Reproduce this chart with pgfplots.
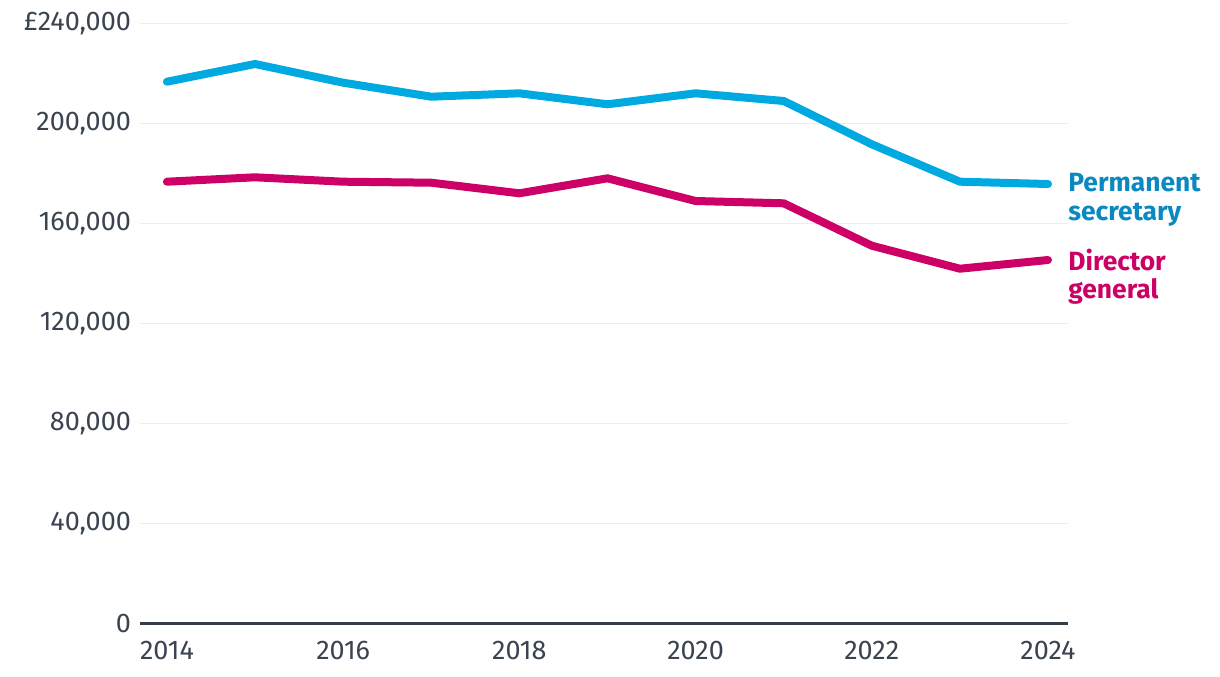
\documentclass[border=0pt]{standalone}
\usepackage{pgfplots}
\pgfplotsset{compat=1.18}
\usepackage{fontspec}
\setmainfont{Fira Sans}
\definecolor{psblue}{HTML}{00A9E0}
\definecolor{pstext}{HTML}{0A88C0}
\definecolor{dgmag}{HTML}{CC0066}
\definecolor{ticktext}{HTML}{3A4450}
\definecolor{gridc}{HTML}{EDEDED}
\definecolor{axc}{HTML}{333D47}
\begin{document}
\begin{tikzpicture}
\begin{axis}[
  name=ax,
  scale only axis,
  width=464pt, height=300pt,
  xmin=2013.694, xmax=2024.227,
  ymin=0, ymax=240000,
  scaled y ticks=false,
  scaled x ticks=false,
  axis y line*=left,
  axis x line*=bottom,
  y axis line style={draw=none},
  x axis line style={draw=axc, line width=1.5pt, -},
  xtick={2014,2016,2018,2020,2022,2024},
  xticklabels={2014,2016,2018,2020,2022,2024},
  ytick={0,40000,80000,120000,160000,200000,240000},
  yticklabels={0,{40,000},{80,000},{120,000},{160,000},{200,000},{£240,000}},
  major tick length=0pt,
  ymajorgrids,
  grid style={draw=gridc, line width=0.9pt},
  tick label style={font=\fontsize{13.5}{16}\selectfont, text=ticktext},
  xticklabel style={yshift=-5.5pt},
  yticklabel style={xshift=-1pt},
  clip=false,
]
\addplot[psblue, line width=4pt, line cap=round, line join=round] coordinates {
(2014,216720) (2015,223800) (2016,216320) (2017,210720) (2018,212080) (2019,207680)
(2020,212080) (2021,209000) (2022,191680) (2023,176720) (2024,175800)};
\addplot[dgmag, line width=4pt, line cap=round, line join=round] coordinates {
(2014,176720) (2015,178480) (2016,176720) (2017,176320) (2018,172080) (2019,178080)
(2020,169000) (2021,168080) (2022,151120) (2023,141920) (2024,145400)};
\node[anchor=north west, align=left, inner sep=0pt, text=pstext,
  font=\fontsize{13.2}{14.5}\selectfont\bfseries]
  at (axis cs:2024,175800) [xshift=10pt, yshift=5.5pt] {Permanent\\secretary};
\node[anchor=north west, align=left, inner sep=0pt, text=dgmag,
  font=\fontsize{13.2}{14}\selectfont\bfseries]
  at (axis cs:2024,145400) [xshift=10pt, yshift=5.5pt] {Director\\general};
\end{axis}
\pgfresetboundingbox
\path[use as bounding box] ([xshift=-70pt,yshift=-26.25pt]ax.south west) rectangle ([xshift=76pt,yshift=11.75pt]ax.north east);
\end{tikzpicture}
\end{document}
